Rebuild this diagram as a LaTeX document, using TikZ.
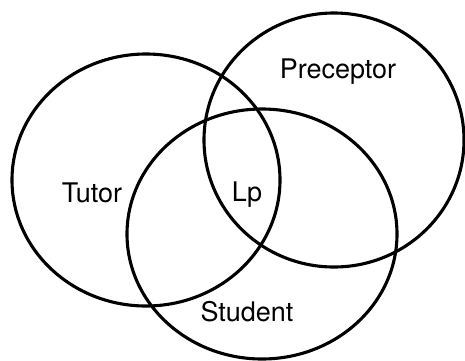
\documentclass[tikz,border=0pt]{standalone}
\usepackage{fontspec}
\setmainfont{TeX Gyre Heros}
\usepackage{tikz}

\begin{document}
\begin{tikzpicture}[x=1pt, y=-1pt,
    ring/.style={draw=black, line width=3.1pt},
    lbl/.style={font=\fontsize{27}{32}\selectfont, inner sep=0pt}]
  \useasboundingbox (0,0) rectangle (465,360);
  % the three sets
  \draw[ring] (146,180) ellipse [x radius=134, y radius=126];
  \draw[ring] (334,140) ellipse [x radius=130, y radius=127];
  \draw[ring] (262,234) ellipse [x radius=135, y radius=125];
  % labels
  \node[lbl] (tutor) at (92,193) {Tutor};
  \node[lbl] (preceptor) at (338,72) {Preceptor};
  \node[lbl] (lp) at (247,195) {Lp};
  \node[lbl] (student) at (247,312) {Student};
\end{tikzpicture}
\end{document}
